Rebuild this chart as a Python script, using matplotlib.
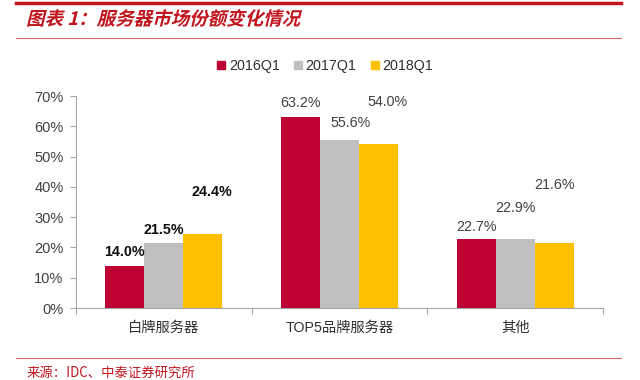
import matplotlib
matplotlib.use("Agg")
import matplotlib.pyplot as plt
import numpy as np
from matplotlib.patches import PathPatch, Patch
from matplotlib.textpath import TextPath
from matplotlib.font_manager import FontProperties
from matplotlib.transforms import Affine2D
from matplotlib.lines import Line2D

plt.rcParams['font.family'] = ['Liberation Sans', 'Noto Sans CJK SC', 'DejaVu Sans']

categories = ["白牌服务器", "TOP5品牌服务器", "其他"]
series = ["2016Q1", "2017Q1", "2018Q1"]
v2016 = [14.0, 63.2, 22.7]
v2017 = [21.5, 55.6, 22.9]
v2018 = [24.4, 54.0, 21.6]
yticks = [0, 10, 20, 30, 40, 50, 60, 70]

# where the value labels sit (data units), they are not all right on the bars
label_y = [[18.5, 67.7, 26.7], [25.7, 61.1, 33.0], [38.3, 68.0, 40.6]]
label_dx = [[0.0, 0.0, 0.0], [0.0, 0.065, 0.0], [0.05, 0.05, 0.0]]

colors = ["#BE0032", "#BFBFBF", "#FFC000"]
red = "#C0141E"

fig = plt.figure(figsize=(6.4, 3.8), dpi=100)
ax = fig.add_axes([76 / 640, 1 - 308 / 380, 527 / 640, 212 / 380])

x = np.arange(len(categories))
w = 0.222
for i, vals in enumerate([v2016, v2017, v2018]):
    ax.bar(x + (i - 1) * w, vals, w, color=colors[i], zorder=2)
    for j, v in enumerate(vals):
        bold = (j == 0)
        ax.text(x[j] + (i - 1) * w + label_dx[i][j], label_y[i][j], "%.1f%%" % v,
                ha="center", va="center", fontsize=10.3,
                fontweight="bold" if bold else "normal",
                color="#111111" if bold else "#404040")

ax.set_xlim(-0.5, 2.5)
ax.set_ylim(0, 70)
ax.set_yticks(yticks)
ax.set_yticklabels(["%d%%" % t for t in yticks], fontsize=10.5, color="#404040")
ax.set_xticks(x)
ax.set_xticklabels(categories, fontsize=10.3, color="#303030")
ax.set_xticks([-0.5, 0.5, 1.5, 2.5], minor=True)
ax.tick_params(axis="x", which="major", length=0, pad=9)
ax.tick_params(axis="x", which="minor", length=4, color="#A6A6A6", width=0.8)
ax.tick_params(axis="y", length=4, color="#A6A6A6", width=0.8, pad=5)
for s in ["top", "right"]:
    ax.spines[s].set_visible(False)
for s in ["left", "bottom"]:
    ax.spines[s].set_color("#A6A6A6")
    ax.spines[s].set_linewidth(0.8)

handles = [Patch(color=c) for c in colors]
fig.legend(handles, series, loc="center", bbox_to_anchor=(0.508, 1 - 66 / 380),
           ncol=3, frameon=False, fontsize=10.3, handlelength=0.55, handleheight=0.55,
           handletextpad=0.25, columnspacing=1.0, labelcolor="#303030")

# title, drawn as a slanted path since the CJK font has no italic
fp = FontProperties(family="Noto Sans CJK SC", weight="bold")
tp = TextPath((0, 0), "图表 1：服务器市场份额变化情况", size=18.5, prop=fp)
tr = Affine2D().skew_deg(14, 0).translate(26, 380 - 25)
fig.add_artist(PathPatch(tp, transform=tr, color=red, lw=0))

fig.add_artist(Line2D([16 / 640, 621 / 640], [1 - 3 / 380] * 2, color=red, lw=2.5))
fig.add_artist(Line2D([16 / 640, 621 / 640], [1 - 38 / 380] * 2, color="#D46A6A", lw=0.8))
fig.add_artist(Line2D([16 / 640, 621 / 640], [1 - 358 / 380] * 2, color="#D46A6A", lw=0.8))
fig.text(27 / 640, 1 - 373 / 380, "来源：IDC、中泰证券研究所", fontsize=9.6, color=red,
         va="center", family=["Noto Sans CJK SC", "DejaVu Sans"])

fig.savefig("out.png", dpi=100)
plt.close()
